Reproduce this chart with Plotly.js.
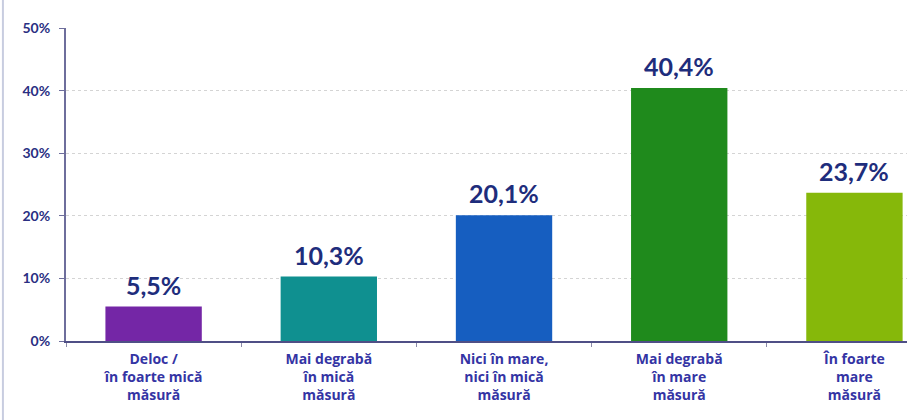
<!DOCTYPE html>
<html>
<head>
<meta charset="utf-8">
<script src="https://cdn.plot.ly/plotly-3.0.1.min.js"></script>
<style>html,body{margin:0;padding:0;background:#fff;}#chart{width:907px;height:420px;}</style>
</head>
<body>
<div id="chart"></div>
<script>
var categories = [
  "Deloc /<br>în foarte mică<br>măsură",
  "Mai degrabă<br>în mică<br>măsură",
  "Nici în mare,<br>nici în mică<br>măsură",
  "Mai degrabă<br>în mare<br>măsură",
  "În foarte<br>mare<br>măsură"
];
var values = [5.5, 10.3, 20.1, 40.4, 23.7];
var valueLabels = ["5,5%", "10,3%", "20,1%", "40,4%", "23,7%"];
var barColors = ["#7426a6", "#0f9090", "#165ec0", "#1f8a1c", "#86b80a"];
var yTickVals = [0, 10, 20, 30, 40, 50];
var yTickText = ["0%", "10%", "20%", "30%", "40%", "50%"];

var FONT = "Lato, 'Open Sans', sans-serif";

var trace = {
  type: "bar",
  x: categories,
  y: values,
  marker: {color: barColors},
  width: 0.55,
  hoverinfo: "none"
};

// value labels above each bar
var annotations = categories.map(function (cat, i) {
  return {
    x: cat, xref: "x", y: values[i], yref: "y",
    text: valueLabels[i], showarrow: false,
    xanchor: "center", yanchor: "bottom", yshift: 5,
    font: {family: FONT, size: 25, color: "#1e2d7c", weight: "bold"}
  };
});

var layout = {
  width: 907, height: 420,
  margin: {l: 66, r: 0, t: 28, b: 79},
  paper_bgcolor: "#ffffff",
  plot_bgcolor: "#ffffff",
  showlegend: false,
  font: {family: FONT, color: "#2e2e9a"},
  xaxis: {
    type: "category",
    range: [-0.5, 4.3],
    showline: true, linecolor: "#4f4f86", linewidth: 2,
    ticks: "outside", tickson: "boundaries", ticklen: 4, tickcolor: "#8a8aa8",
    tickfont: {family: "'Open Sans', sans-serif", size: 14, color: "#3434a4", weight: "bold"},
    ticklabelstandoff: 4,
    showgrid: false, zeroline: false, fixedrange: true
  },
  yaxis: {
    range: [0, 50],
    tickvals: yTickVals, ticktext: yTickText,
    showline: true, linecolor: "#6e6e9c", linewidth: 2,
    ticks: "outside", ticklen: 5, tickcolor: "#6e6e9c",
    ticklabelstandoff: 6,
    tickfont: {family: FONT, size: 14, color: "#2a2f82", weight: "bold"},
    showgrid: true, gridcolor: "#d4d4d4", griddash: "dot", gridwidth: 1,
    zeroline: false, fixedrange: true
  },
  annotations: annotations,
  shapes: [{
    type: "line", xref: "paper", yref: "paper",
    x0: -0.075, x1: -0.075, y0: -0.3, y1: 1.1,
    line: {color: "#c8cde0", width: 2}
  }]
};

Plotly.newPlot("chart", [trace], layout, {displayModeBar: false, staticPlot: true});
</script>
</body>
</html>
